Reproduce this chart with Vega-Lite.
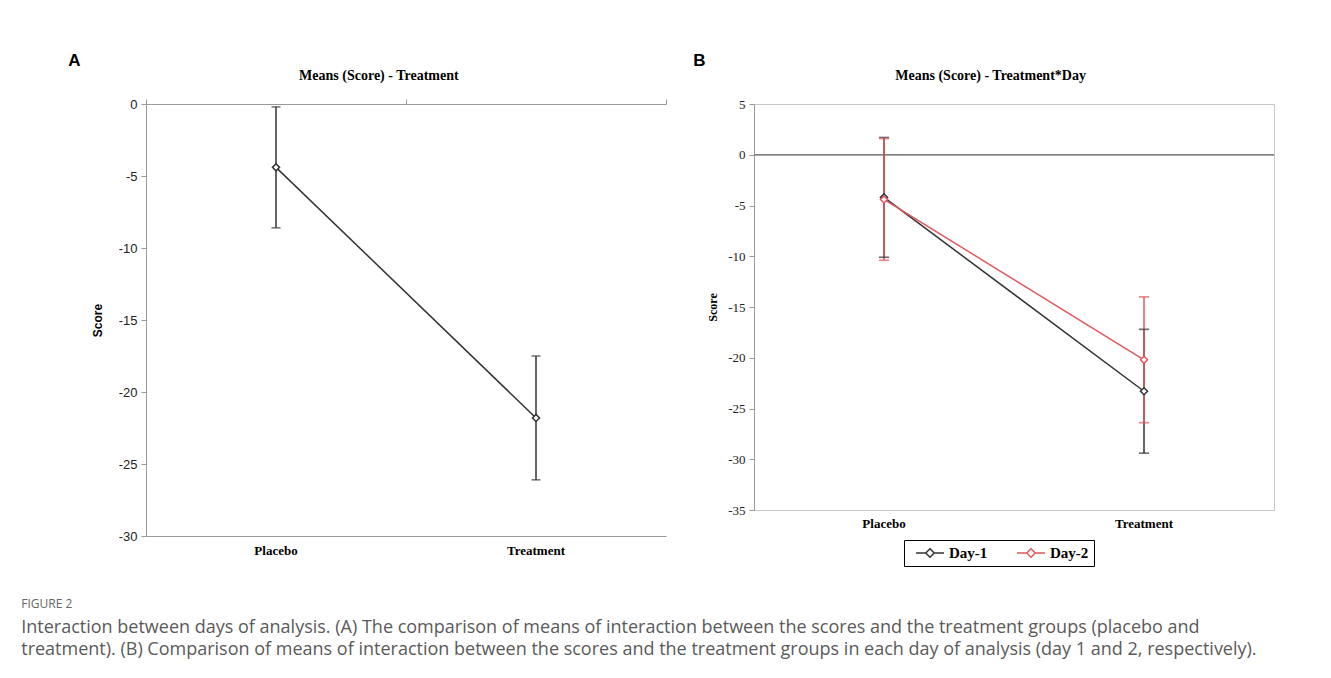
{
  "$schema": "https://vega.github.io/schema/vega-lite/v6.json",
  "background": "white",
  "padding": {"left": 21, "top": 51, "right": 10, "bottom": 5},
  "title": {
    "text": "FIGURE 2",
    "orient": "bottom",
    "anchor": "start",
    "frame": "bounds",
    "font": "Open Sans",
    "fontSize": 12,
    "fontWeight": "normal",
    "color": "#666666",
    "offset": 32,
    "dx": -47,
    "subtitle": [
      "Interaction between days of analysis. (A) The comparison of means of interaction between the scores and the treatment groups (placebo and",
      "treatment). (B) Comparison of means of interaction between the scores and the treatment groups in each day of analysis (day 1 and 2, respectively)."
    ],
    "subtitleFont": "Open Sans",
    "subtitleFontSize": 18,
    "subtitleColor": "#5a5a5a",
    "subtitleLineHeight": 22,
    "subtitlePadding": 8
  },
  "config": {
    "view": {"stroke": null},
    "title": {"font": "Liberation Serif", "fontSize": 14, "fontWeight": "bold", "color": "black"}
  },
  "resolve": {"scale": {"stroke": "independent"}, "legend": {"stroke": "independent"}},
  "spacing": 26,
  "hconcat": [
    {
      "title": {"text": "A", "anchor": "start", "frame": "bounds", "font": "Liberation Sans", "fontSize": 17, "fontWeight": "bold", "color": "black", "dx": -23, "offset": -1},
      "vconcat": [
        {
          "width": 520,
          "height": 432,
          "title": {"text": "Means (Score) - Treatment", "anchor": "middle", "frame": "bounds", "offset": 15},
          "data": {"values": [
            {"group": "Placebo", "mean": -4.4, "lo": -8.6, "hi": -0.2},
            {"group": "Treatment", "mean": -21.8, "lo": -26.1, "hi": -17.5}
          ]},
          "resolve": {"axis": {"x": "independent"}},
          "layer": [
            {
              "mark": {"type": "rule", "color": "#333333", "strokeWidth": 1.5},
              "encoding": {
                "x": {"field": "group", "type": "nominal", "sort": null,
                  "scale": {"type": "band", "paddingInner": 0, "paddingOuter": 0},
                  "axis": {"orient": "bottom", "title": null, "ticks": false, "labelAngle": 0, "labelPadding": 8, "labelFont": "Liberation Serif", "labelFontSize": 13, "labelFontWeight": "bold", "labelColor": "black", "domainColor": "#999999"}},
                "y": {"field": "lo", "type": "quantitative", "title": "Score",
                  "scale": {"domain": [-30, 0], "nice": false, "zero": false},
                  "axis": {"values": [-30, -25, -20, -15, -10, -5, 0], "labelExpr": "'' + datum.value", "grid": false, "title": "Score", "titleFont": "Liberation Sans", "titleFontSize": 12, "titleFontWeight": "bold", "titleColor": "black", "titlePadding": 14, "labelFont": "Liberation Sans", "labelFontSize": 13, "labelColor": "#222222", "labelPadding": 4, "tickSize": 5, "tickColor": "#999999", "domainColor": "#999999"}},
                "y2": {"field": "hi"}
              }
            },
            {
              "mark": {"type": "tick", "color": "#333333", "size": 9, "thickness": 1.5},
              "encoding": {
                "x": {"field": "group", "type": "nominal", "sort": null, "axis": null},
                "y": {"field": "lo", "type": "quantitative", "title": "Score"}
              }
            },
            {
              "mark": {"type": "tick", "color": "#333333", "size": 9, "thickness": 1.5},
              "encoding": {
                "x": {"field": "group", "type": "nominal", "sort": null, "axis": null},
                "y": {"field": "hi", "type": "quantitative", "title": "Score"}
              }
            },
            {
              "mark": {"type": "line", "color": "#333333", "strokeWidth": 1.5},
              "encoding": {
                "x": {"field": "group", "type": "nominal", "sort": null,
                  "axis": {"orient": "top", "title": null, "labels": false, "ticks": true, "tickBand": "extent", "tickSize": 5, "tickColor": "#999999", "domainColor": "#999999"}},
                "y": {"field": "mean", "type": "quantitative", "title": "Score"}
              }
            },
            {
              "mark": {"type": "point", "shape": "diamond", "filled": true, "fill": "white", "stroke": "#333333", "strokeWidth": 1.5, "size": 50, "opacity": 1},
              "encoding": {
                "x": {"field": "group", "type": "nominal", "sort": null, "axis": null},
                "y": {"field": "mean", "type": "quantitative", "title": "Score"}
              }
            }
          ]
        }
      ]
    },
    {
      "title": {"text": "B", "anchor": "start", "frame": "bounds", "font": "Liberation Sans", "fontSize": 17, "fontWeight": "bold", "color": "black", "dx": -13, "offset": -1},
      "resolve": {"scale": {"stroke": "independent"}, "legend": {"stroke": "independent"}},
      "vconcat": [
        {
          "width": 520,
          "height": 406,
          "view": {"stroke": "#c8c8c8"},
          "title": {"text": "Means (Score) - Treatment*Day", "anchor": "middle", "frame": "bounds", "offset": 15},
          "data": {"values": [
            {"group": "Placebo", "day": "Day-1", "mean": -4.2, "lo": -10.1, "hi": 1.7},
            {"group": "Treatment", "day": "Day-1", "mean": -23.3, "lo": -29.4, "hi": -17.2},
            {"group": "Placebo", "day": "Day-2", "mean": -4.4, "lo": -10.4, "hi": 1.6},
            {"group": "Treatment", "day": "Day-2", "mean": -20.2, "lo": -26.4, "hi": -14.0}
          ]},
          "layer": [
            {
              "mark": {"type": "rule", "color": "#808080", "strokeWidth": 1},
              "encoding": {
                "y": {"datum": 0, "type": "quantitative", "title": "Score"}
              }
            },
            {
              "mark": {"type": "rule", "strokeWidth": 1.5, "fill": "white"},
              "encoding": {
                "x": {"field": "group", "type": "nominal", "sort": null,
                  "scale": {"type": "band", "paddingInner": 0, "paddingOuter": 0},
                  "axis": {"orient": "bottom", "title": null, "ticks": false, "labelAngle": 0, "labelPadding": 7, "labelFont": "Liberation Serif", "labelFontSize": 13, "labelFontWeight": "bold", "labelColor": "black", "domainColor": "#c8c8c8"}},
                "y": {"field": "lo", "type": "quantitative", "title": "Score",
                  "scale": {"domain": [-35, 5], "nice": false, "zero": false},
                  "axis": {"values": [-35, -30, -25, -20, -15, -10, -5, 0, 5], "labelExpr": "'' + datum.value", "grid": false, "title": "Score", "titleFont": "Liberation Serif", "titleFontSize": 12, "titleFontWeight": "bold", "titleColor": "black", "titlePadding": 8, "labelFont": "Liberation Serif", "labelFontSize": 13, "labelColor": "#222222", "labelPadding": 4, "tickSize": 5, "tickColor": "#999999", "domainColor": "#999999"}},
                "y2": {"field": "hi"},
                "stroke": {"field": "day", "type": "nominal",
                  "scale": {"domain": ["Day-1", "Day-2"], "range": ["#333333", "#e0585c"]},
                  "legend": {"orient": "none", "legendX": 150, "legendY": 436, "direction": "horizontal", "title": null, "strokeColor": "black", "padding": 5,
                    "symbolType": "M-2,0L-0.6,0M0.6,0L2,0M0,-0.6L0.6,0L0,0.6L-0.6,0Z", "symbolSize": 196, "symbolStrokeWidth": 1.5, "symbolOffset": 13, "symbolFillColor": "white",
                    "labelFont": "Liberation Serif", "labelFontSize": 15, "labelFontWeight": "bold", "labelColor": "black", "labelOffset": 11, "columnPadding": 22}}
              }
            },
            {
              "mark": {"type": "tick", "size": 9, "thickness": 0.5, "filled": false, "strokeWidth": 1.2},
              "encoding": {
                "x": {"field": "group", "type": "nominal", "sort": null},
                "y": {"field": "lo", "type": "quantitative", "title": "Score"},
                "stroke": {"field": "day", "type": "nominal"}
              }
            },
            {
              "mark": {"type": "tick", "size": 9, "thickness": 0.5, "filled": false, "strokeWidth": 1.2},
              "encoding": {
                "x": {"field": "group", "type": "nominal", "sort": null},
                "y": {"field": "hi", "type": "quantitative", "title": "Score"},
                "stroke": {"field": "day", "type": "nominal"}
              }
            },
            {
              "mark": {"type": "line", "strokeWidth": 1.5},
              "encoding": {
                "x": {"field": "group", "type": "nominal", "sort": null},
                "y": {"field": "mean", "type": "quantitative", "title": "Score"},
                "stroke": {"field": "day", "type": "nominal"}
              }
            },
            {
              "mark": {"type": "point", "shape": "diamond", "filled": true, "fill": "white", "strokeWidth": 1.5, "size": 50, "opacity": 1},
              "encoding": {
                "x": {"field": "group", "type": "nominal", "sort": null},
                "y": {"field": "mean", "type": "quantitative", "title": "Score"},
                "stroke": {"field": "day", "type": "nominal"}
              }
            }
          ]
        }
      ]
    }
  ]
}
